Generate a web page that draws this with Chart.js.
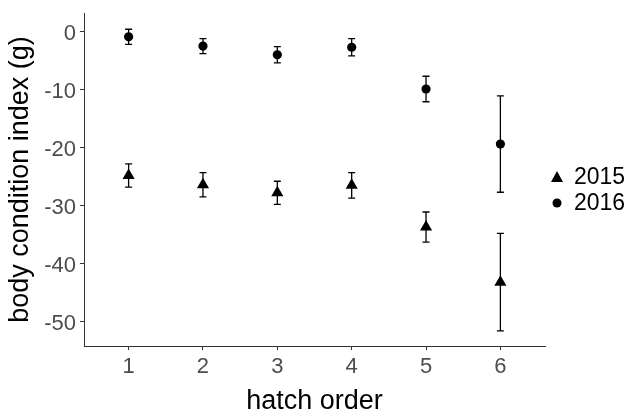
<!DOCTYPE html>
<html lang="en">
<head>
    <meta charset="UTF-8">
    <title>Body condition by hatch order</title>
    <script src="https://cdn.jsdelivr.net/npm/chart.js"></script>
    <style>
        body {
            margin: 0;
            padding: 0;
            background-color: #ffffff;
        }

        .chart-box {
            width: 636px;
            height: 412px;
            position: relative;
        }
    </style>
</head>
<body>

    <div class="chart-box">
        <canvas id="bciChart" width="636" height="412"></canvas>
    </div>

    <script>
        // Data
        const hatchOrder = [1, 2, 3, 4, 5, 6];
        const mean2015 = [-24.8, -26.4, -27.8, -26.5, -33.7, -43.2];
        const err2015  = [2.0, 2.1, 2.0, 2.2, 2.6, 8.4];
        const mean2016 = [-0.9, -2.5, -4.0, -2.7, -9.9, -19.4];
        const err2016  = [1.3, 1.3, 1.4, 1.5, 2.2, 8.3];
        const yTicks = [0, -10, -20, -30, -40, -50];
        const xTicks = [1, 2, 3, 4, 5, 6];

        const fontFamily = "'Liberation Sans', Arial, sans-serif";

        function toPoints(xs, ys) {
            return xs.map((x, i) => ({ x: x, y: ys[i] }));
        }

        // Error bars (mean +/- err), drawn through the chart scales
        const errorBarPlugin = {
            id: 'errorBars',
            beforeDatasetsDraw(chart) {
                const ctx = chart.ctx;
                const xs = chart.scales.x;
                const ys = chart.scales.y;
                ctx.save();
                ctx.strokeStyle = '#000';
                ctx.lineWidth = 1.3;
                chart.data.datasets.forEach(ds => {
                    ds.data.forEach((p, i) => {
                        const px = xs.getPixelForValue(p.x);
                        const top = ys.getPixelForValue(p.y + ds.errors[i]);
                        const bot = ys.getPixelForValue(p.y - ds.errors[i]);
                        ctx.beginPath();
                        ctx.moveTo(px, top);
                        ctx.lineTo(px, bot);
                        ctx.moveTo(px - 3.5, top);
                        ctx.lineTo(px + 3.5, top);
                        ctx.moveTo(px - 3.5, bot);
                        ctx.lineTo(px + 3.5, bot);
                        ctx.stroke();
                    });
                });
                ctx.restore();
            }
        };

        // ggplot-style legend to the right of the panel
        const sideLegendPlugin = {
            id: 'sideLegend',
            afterDraw(chart) {
                const ctx = chart.ctx;
                const area = chart.chartArea;
                const x0 = area.right + 12;
                let y0 = area.top + 164;
                ctx.save();
                ctx.fillStyle = '#000';
                ctx.font = '23px ' + fontFamily;
                ctx.textBaseline = 'middle';
                chart.data.datasets.forEach(ds => {
                    ctx.beginPath();
                    if (ds.pointStyle === 'triangle') {
                        ctx.moveTo(x0, y0 - 6);
                        ctx.lineTo(x0 + 6, y0 + 5);
                        ctx.lineTo(x0 - 6, y0 + 5);
                        ctx.closePath();
                    } else {
                        ctx.arc(x0, y0, 4.5, 0, Math.PI * 2);
                    }
                    ctx.fill();
                    ctx.fillText(ds.label, x0 + 17, y0 + 1);
                    y0 += 26;
                });
                ctx.restore();
            }
        };

        const ctx = document.getElementById('bciChart').getContext('2d');
        const bciChart = new Chart(ctx, {
            type: 'scatter',
            data: {
                datasets: [
                    {
                        label: '2015',
                        data: toPoints(hatchOrder, mean2015),
                        errors: err2015,
                        pointStyle: 'triangle',
                        pointRadius: 7,
                        backgroundColor: '#000',
                        borderColor: '#000',
                        borderWidth: 0
                    },
                    {
                        label: '2016',
                        data: toPoints(hatchOrder, mean2016),
                        errors: err2016,
                        pointStyle: 'circle',
                        pointRadius: 4.6,
                        backgroundColor: '#000',
                        borderColor: '#000',
                        borderWidth: 0
                    }
                ]
            },
            options: {
                responsive: false,
                animation: false,
                layout: {
                    padding: { top: 13, right: 91, bottom: 0, left: 0 }
                },
                plugins: {
                    legend: { display: false },
                    tooltip: { enabled: false }
                },
                scales: {
                    x: {
                        type: 'linear',
                        min: 0.4,
                        max: 6.6,
                        afterBuildTicks(scale) {
                            scale.ticks = xTicks.map(v => ({ value: v }));
                        },
                        afterFit(scale) {
                            scale.height = 66;
                            scale.paddingLeft = 0;
                            scale.paddingRight = 0;
                        },
                        grid: {
                            drawOnChartArea: false,
                            drawTicks: true,
                            tickLength: 4,
                            color: '#333'
                        },
                        border: { display: true, color: '#333', width: 1 },
                        ticks: {
                            color: '#4d4d4d',
                            padding: 4,
                            font: { family: fontFamily, size: 22 }
                        },
                        title: {
                            display: true,
                            text: 'hatch order',
                            color: '#000',
                            padding: { top: 0, bottom: 0 },
                            font: { family: fontFamily, size: 27, lineHeight: 0.75 }
                        }
                    },
                    y: {
                        min: -54.2,
                        max: 3.2,
                        afterBuildTicks(scale) {
                            scale.ticks = yTicks.map(v => ({ value: v }));
                        },
                        afterFit(scale) {
                            scale.width = 84;
                            scale.paddingTop = 0;
                            scale.paddingBottom = 0;
                        },
                        grid: {
                            drawOnChartArea: false,
                            drawTicks: true,
                            tickLength: 4,
                            color: '#333'
                        },
                        border: { display: true, color: '#333', width: 1 },
                        ticks: {
                            color: '#4d4d4d',
                            padding: 4,
                            labelOffset: 2,
                            font: { family: fontFamily, size: 22 }
                        },
                        title: {
                            display: true,
                            text: 'body condition index (g)',
                            color: '#000',
                            padding: { top: 10, bottom: 0 },
                            font: { family: fontFamily, size: 27, lineHeight: 0.75 }
                        }
                    }
                }
            },
            plugins: [errorBarPlugin, sideLegendPlugin]
        });
    </script>
</body>
</html>
